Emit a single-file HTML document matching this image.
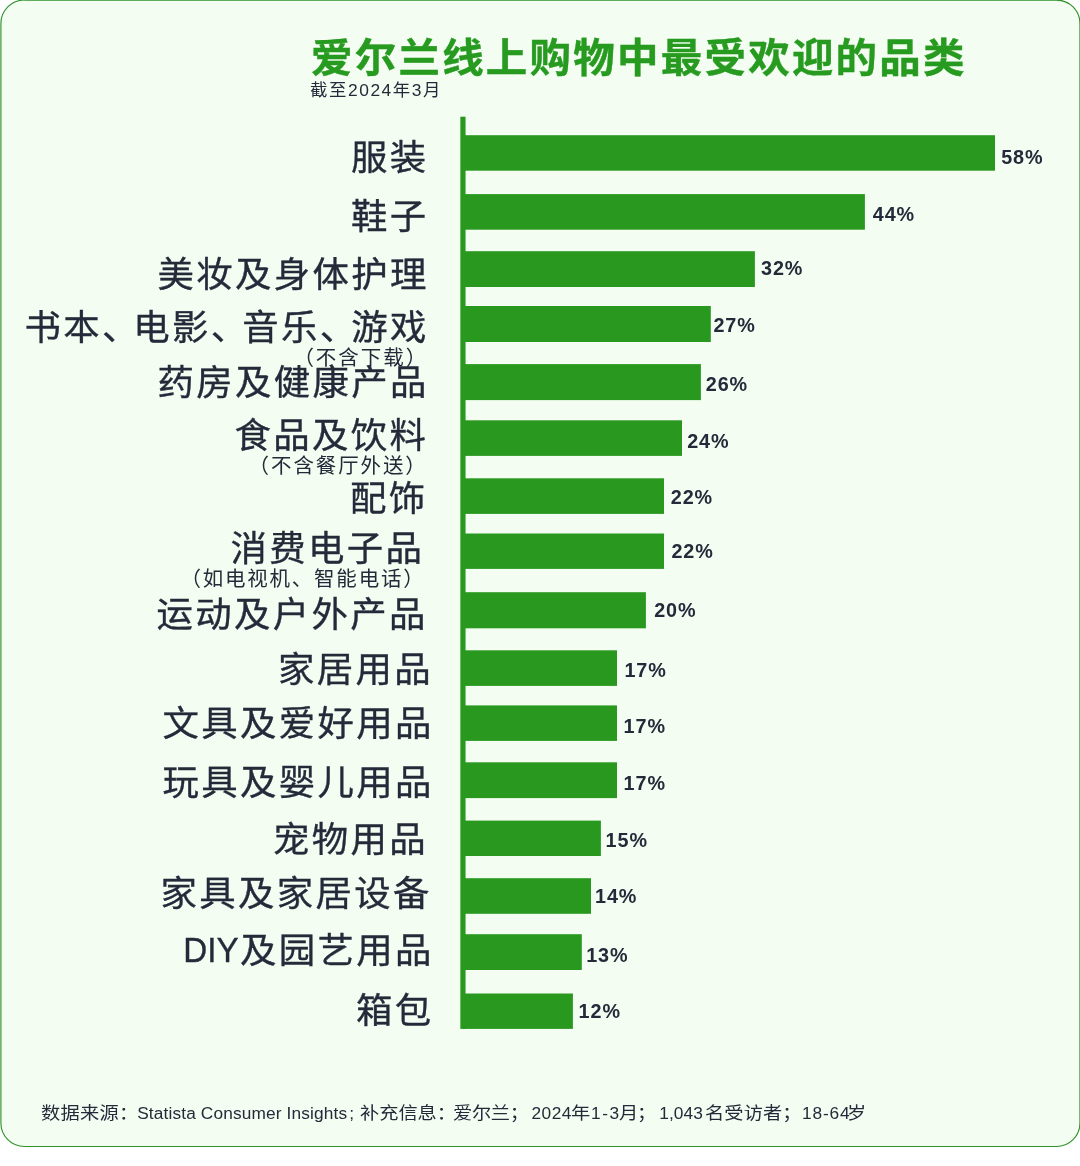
<!DOCTYPE html>
<html lang="zh-CN">
<head>
<meta charset="utf-8">
<title>爱尔兰线上购物中最受欢迎的品类</title>
<style>
html,body{margin:0;padding:0;background:#fff;}
body{width:1080px;height:1166px;position:relative;overflow:hidden;font-family:"Liberation Sans","Noto Sans CJK SC",sans-serif;color:#232b3a;}
#panel{position:absolute;left:0;top:0;width:1080px;height:1166px;display:block;}
.t{position:absolute;white-space:nowrap;line-height:1;margin:0;padding:0;}
.title{font-weight:700;color:#279a20;-webkit-text-stroke:0.4px #279a20;}
.cat{transform:scaleX(1.04);transform-origin:100% 50%;font-weight:400;-webkit-text-stroke:0.35px #232b3a;}
.val{font-weight:700;font-family:"Liberation Sans",sans-serif;}
.sub{font-weight:400;}
.ft{font-size:17.3px;top:1105.00px;}
.ft.c{font-size:17.5px;letter-spacing:0.0px;transform:scaleX(1.1);transform-origin:0 0;}
</style>
</head>
<body>
<svg id="panel" width="1080" height="1166" viewBox="0 0 1080 1166">
<rect x="0.9" y="0.05" width="1079.05" height="1146.4" rx="23.5" ry="23.5" fill="#f3fdf1" stroke="#2f922a" stroke-width="1.15"/>
<g id="bars" class="bar" fill="#28981f">
<rect id="axis" x="460.35" y="116.7" width="5.2" height="912.2"/>
<rect id="bar0" x="463" y="135.2" width="532.0" height="35.5"/>
<rect id="bar1" x="463" y="194.1" width="401.9" height="35.6"/>
<rect id="bar2" x="463" y="251.2" width="291.9" height="35.8"/>
<rect id="bar3" x="463" y="306.0" width="247.8" height="36.0"/>
<rect id="bar4" x="463" y="364.1" width="237.9" height="36.0"/>
<rect id="bar5" x="463" y="420.3" width="219.0" height="35.6"/>
<rect id="bar6" x="463" y="478.3" width="201.0" height="35.6"/>
<rect id="bar7" x="463" y="533.5" width="201.0" height="35.4"/>
<rect id="bar8" x="463" y="592.2" width="182.9" height="36.1"/>
<rect id="bar9" x="463" y="650.3" width="154.0" height="35.6"/>
<rect id="bar10" x="463" y="705.4" width="154.0" height="35.5"/>
<rect id="bar11" x="463" y="762.3" width="154.0" height="35.8"/>
<rect id="bar12" x="463" y="820.6" width="137.9" height="35.4"/>
<rect id="bar13" x="463" y="878.2" width="128.0" height="35.6"/>
<rect id="bar14" x="463" y="934.2" width="118.8" height="35.8"/>
<rect id="bar15" x="463" y="993.5" width="109.9" height="35.4"/>
</g>
</svg>
<h1 class="t title" id="title" style="left:310.80px;top:38.60px;font-size:39.5px;letter-spacing:2.135px;transform:scaleX(1.05);transform-origin:0 0;">爱尔兰线上购物中最受欢迎的品类</h1>
<div class="t" id="subtitle" style="left:310.10px;top:82.25px;font-size:17.4px;letter-spacing:1.541px;">截至2024年3月</div>
<div class="t cat" id="cat0" style="right:651.54px;top:139.70px;font-size:35px;letter-spacing:2.26px;">服装</div>
<div class="t cat" id="cat1" style="right:651.54px;top:199.45px;font-size:35px;letter-spacing:2.26px;">鞋子</div>
<div class="t cat" id="cat2" style="right:651.54px;top:257.20px;font-size:35px;letter-spacing:2.26px;">美妆及身体护理</div>
<div class="t cat" id="cat3" style="right:651.14px;top:309.85px;font-size:35px;letter-spacing:2.26px;">书本<span style="margin-right:-7.1px">、</span>电影<span style="margin-right:-7.1px">、</span>音乐<span style="margin-right:-7.1px">、</span>游戏</div>
<div class="t cat" id="cat4" style="right:651.34px;top:365.45px;font-size:35px;letter-spacing:2.26px;">药房及健康产品</div>
<div class="t cat" id="cat5" style="right:652.14px;top:417.60px;font-size:35px;letter-spacing:2.26px;">食品及饮料</div>
<div class="t cat" id="cat6" style="right:652.74px;top:481.00px;font-size:35px;letter-spacing:2.26px;">配饰</div>
<div class="t cat" id="cat7" style="right:655.34px;top:531.25px;font-size:35px;letter-spacing:2.26px;">消费电子品</div>
<div class="t cat" id="cat8" style="right:652.14px;top:597.25px;font-size:35px;letter-spacing:2.26px;">运动及户外产品</div>
<div class="t cat" id="cat9" style="right:646.54px;top:652.00px;font-size:35px;letter-spacing:2.26px;">家居用品</div>
<div class="t cat" id="cat10" style="right:646.54px;top:706.20px;font-size:35px;letter-spacing:2.26px;">文具及爱好用品</div>
<div class="t cat" id="cat11" style="right:646.54px;top:765.00px;font-size:35px;letter-spacing:2.26px;">玩具及婴儿用品</div>
<div class="t cat" id="cat12" style="right:651.54px;top:822.35px;font-size:35px;letter-spacing:2.26px;">宠物用品</div>
<div class="t cat" id="cat13" style="right:647.94px;top:875.60px;font-size:35px;letter-spacing:2.26px;">家具及家居设备</div>
<div class="t cat" id="cat14" style="right:646.34px;top:933.35px;font-size:35px;letter-spacing:2.26px;"><span style="display:inline-block;letter-spacing:0px;font-size:35.5px;margin-right:1.2px;transform:scaleX(0.9);transform-origin:100% 50%;position:relative;top:-1.2px">DIY</span>及园艺用品</div>
<div class="t cat" id="cat15" style="right:646.94px;top:992.55px;font-size:35px;letter-spacing:2.26px;">箱包</div>
<div class="t sub" id="sub0" style="left:293.40px;top:348.20px;font-size:20.5px;letter-spacing:1.98px;">（不含下载）</div>
<div class="t sub" id="sub1" style="left:248.60px;top:455.70px;font-size:20.5px;letter-spacing:1.897px;">（不含餐厅外送）</div>
<div class="t sub" id="sub2" style="left:180.40px;top:568.65px;font-size:20.5px;letter-spacing:1.78px;">（如电视机、智能电话）</div>
<div class="t val" id="val0" style="left:1001.20px;top:148.38px;font-size:19.8px;letter-spacing:0.9px;">58%</div>
<div class="t val" id="val1" style="left:872.80px;top:204.98px;font-size:19.8px;letter-spacing:0.9px;">44%</div>
<div class="t val" id="val2" style="left:761.00px;top:258.78px;font-size:19.8px;letter-spacing:0.9px;">32%</div>
<div class="t val" id="val3" style="left:713.40px;top:316.18px;font-size:19.8px;letter-spacing:0.9px;">27%</div>
<div class="t val" id="val4" style="left:705.80px;top:374.78px;font-size:19.8px;letter-spacing:0.9px;">26%</div>
<div class="t val" id="val5" style="left:687.20px;top:431.58px;font-size:19.8px;letter-spacing:0.9px;">24%</div>
<div class="t val" id="val6" style="left:670.80px;top:487.98px;font-size:19.8px;letter-spacing:0.9px;">22%</div>
<div class="t val" id="val7" style="left:671.40px;top:541.78px;font-size:19.8px;letter-spacing:0.9px;">22%</div>
<div class="t val" id="val8" style="left:654.20px;top:601.38px;font-size:19.8px;letter-spacing:0.9px;">20%</div>
<div class="t val" id="val9" style="left:624.40px;top:660.78px;font-size:19.8px;letter-spacing:0.9px;">17%</div>
<div class="t val" id="val10" style="left:623.60px;top:716.98px;font-size:19.8px;letter-spacing:0.9px;">17%</div>
<div class="t val" id="val11" style="left:623.60px;top:773.58px;font-size:19.8px;letter-spacing:0.9px;">17%</div>
<div class="t val" id="val12" style="left:605.60px;top:831.38px;font-size:19.8px;letter-spacing:0.9px;">15%</div>
<div class="t val" id="val13" style="left:595.00px;top:886.98px;font-size:19.8px;letter-spacing:0.9px;">14%</div>
<div class="t val" id="val14" style="left:586.20px;top:945.78px;font-size:19.8px;letter-spacing:0.9px;">13%</div>
<div class="t val" id="val15" style="left:578.60px;top:1001.98px;font-size:19.8px;letter-spacing:0.9px;">12%</div>
<div id="footer">
<span class="t ft c" id="ft0" style="left:40.60px;letter-spacing:0.253px;">数据来源：</span>
<span class="t ft" id="ft1" style="left:137.20px;letter-spacing:0.136px;">Statista Consumer Insights</span>
<span class="t ft" id="ft2" style="left:349.20px;letter-spacing:0px;">;</span>
<span class="t ft c" id="ft3" style="left:359.60px;letter-spacing:-0.04px;">补充信息：</span>
<span class="t ft c" id="ft4" style="left:453.30px;letter-spacing:-0.303px;">爱尔兰；</span>
<span class="t ft" id="ft5" style="left:531.50px;letter-spacing:0.498px;">2024</span>
<span class="t ft c" id="ft6" style="left:570.80px;letter-spacing:0px;">年</span>
<span class="t ft" id="ft7" style="left:591.00px;letter-spacing:1.55px;">1-3</span>
<span class="t ft c" id="ft8" style="left:619.40px;letter-spacing:-1.185px;">月；</span>
<span class="t ft" id="ft9" style="left:659.20px;letter-spacing:0.1px;">1,043</span>
<span class="t ft c" id="ft10" style="left:705.30px;letter-spacing:0.075px;">名受访者；</span>
<span class="t ft" id="ft11" style="left:802.10px;letter-spacing:0.8px;">18-64</span>
<span class="t ft c" id="ft12" style="left:847.20px;letter-spacing:0px;">岁</span>
</div>
</body>
</html>
